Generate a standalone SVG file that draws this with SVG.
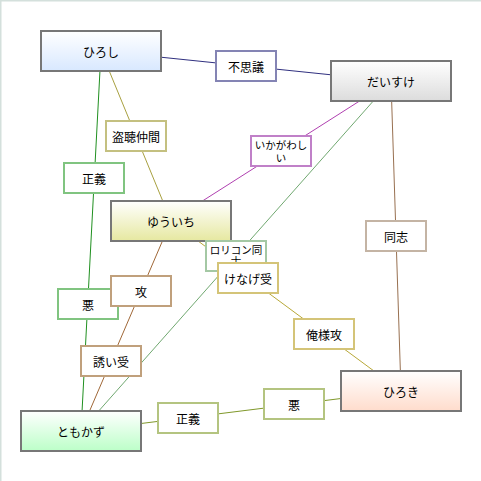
<svg xmlns="http://www.w3.org/2000/svg" width="481" height="481" viewBox="0 0 481 481">
<defs>
<linearGradient id="gBlue" x1="0" y1="0" x2="0" y2="1"><stop offset="0" stop-color="#ffffff"/><stop offset="1" stop-color="#d8e8ff"/></linearGradient>
<linearGradient id="gGray" x1="0" y1="0" x2="0" y2="1"><stop offset="0" stop-color="#ffffff"/><stop offset="1" stop-color="#dcdcdc"/></linearGradient>
<linearGradient id="gYellow" x1="0" y1="0" x2="0" y2="1"><stop offset="0" stop-color="#ffffff"/><stop offset="1" stop-color="#e6e8a0"/></linearGradient>
<linearGradient id="gGreen" x1="0" y1="0" x2="0" y2="1"><stop offset="0" stop-color="#ffffff"/><stop offset="1" stop-color="#bcffc8"/></linearGradient>
<linearGradient id="gPink" x1="0" y1="0" x2="0" y2="1"><stop offset="0" stop-color="#ffffff"/><stop offset="1" stop-color="#ffdccc"/></linearGradient>
</defs>
<style>
text{font-family:"Noto Sans CJK JP","Noto Sans",sans-serif;font-size:12px;fill:#000;text-anchor:middle;dominant-baseline:central}
.node{stroke:#777777;stroke-width:2}
.lbl{fill:#ffffff;stroke-width:2}
.e{fill:none;stroke-width:1}
.small{font-size:10.5px}
</style>
<rect x="0" y="0" width="481" height="481" fill="#ffffff"/>
<path d="M0.5,481 V0.5 H481" fill="none" stroke="#d4e0dc" stroke-width="2"/>
<g id="connectors">
<line class="e" x1="101" y1="51" x2="391" y2="81" stroke="#303080"/>
<line class="e" x1="101" y1="51" x2="171" y2="221" stroke="#a8a040"/>
<line class="e" x1="101" y1="51" x2="81" y2="431" stroke="#209020"/>
<line class="e" x1="391" y1="81" x2="171" y2="221" stroke="#b040b0"/>
<line class="e" x1="391" y1="81" x2="401" y2="391" stroke="#987050"/>
<line class="e" x1="391" y1="81" x2="81" y2="431" stroke="#70a870"/>
<line class="e" x1="171" y1="221" x2="81" y2="431" stroke="#a06838"/>
<line class="e" x1="171" y1="221" x2="401" y2="391" stroke="#b8a838"/>
<line class="e" x1="81" y1="431" x2="401" y2="391" stroke="#80982a"/>
</g>
<g id="n-hiroshi"><rect class="node" x="41" y="31" width="120" height="40" fill="url(#gBlue)"/><text x="101" y="51">ひろし</text></g>
<g id="n-daisuke"><rect class="node" x="331" y="61" width="120" height="40" fill="url(#gGray)"/><text x="391" y="81">だいすけ</text></g>
<g id="n-yuichi"><rect class="node" x="111" y="201" width="120" height="40" fill="url(#gYellow)"/><text x="171" y="221">ゆういち</text></g>
<g id="n-tomokazu"><rect class="node" x="21" y="411" width="120" height="40" fill="url(#gGreen)"/><text x="81" y="431">ともかず</text></g>
<g id="n-hiroki"><rect class="node" x="341" y="371" width="120" height="40" fill="url(#gPink)"/><text x="401" y="391">ひろき</text></g>
<g id="l-fushigi"><rect class="lbl" x="216" y="51" width="60" height="30" stroke="#8484b4"/><text x="246" y="66">不思議</text></g>
<g id="l-touchou"><rect class="lbl" x="106" y="121" width="60" height="30" stroke="#c4c080"/><text x="136" y="136">盗聴仲間</text></g>
<g id="l-seigi1"><rect class="lbl" x="64" y="163" width="60" height="30" stroke="#80c480"/><text x="94" y="178">正義</text></g>
<g id="l-aku1"><rect class="lbl" x="58" y="289" width="60" height="30" stroke="#80c480"/><text x="88" y="304">悪</text></g>
<g id="l-ikagawashii"><rect class="lbl" x="251" y="136" width="60" height="30" stroke="#c080c8"/><text class="small" x="281" y="144.5">いかがわし<tspan x="281" dy="12.5">い</tspan></text></g>
<g id="l-doushi"><rect class="lbl" x="366" y="221" width="60" height="30" stroke="#c4b4a4"/><text x="396" y="236">同志</text></g>
<g id="l-lolicon"><rect class="lbl" x="206" y="241" width="60" height="30" stroke="#a4c8a4"/><text class="small" x="236" y="249">ロリコン同<tspan x="236" dy="10.5">士</tspan></text></g>
<g id="l-kenage"><rect class="lbl" x="218" y="263" width="60" height="30" stroke="#d4c478"/><text x="248" y="278">けなげ受</text></g>
<g id="l-oresama"><rect class="lbl" x="294" y="319" width="60" height="30" stroke="#d4c478"/><text x="324" y="334">俺様攻</text></g>
<g id="l-seme"><rect class="lbl" x="111" y="276" width="60" height="30" stroke="#c0a07c"/><text x="141" y="291">攻</text></g>
<g id="l-sasoi"><rect class="lbl" x="81" y="346" width="60" height="30" stroke="#c0a07c"/><text x="111" y="361">誘い受</text></g>
<g id="l-seigi2"><rect class="lbl" x="158" y="403" width="60" height="30" stroke="#b4c480"/><text x="188" y="418">正義</text></g>
<g id="l-aku2"><rect class="lbl" x="264" y="389" width="60" height="30" stroke="#b4c480"/><text x="294" y="404">悪</text></g>
</svg>
